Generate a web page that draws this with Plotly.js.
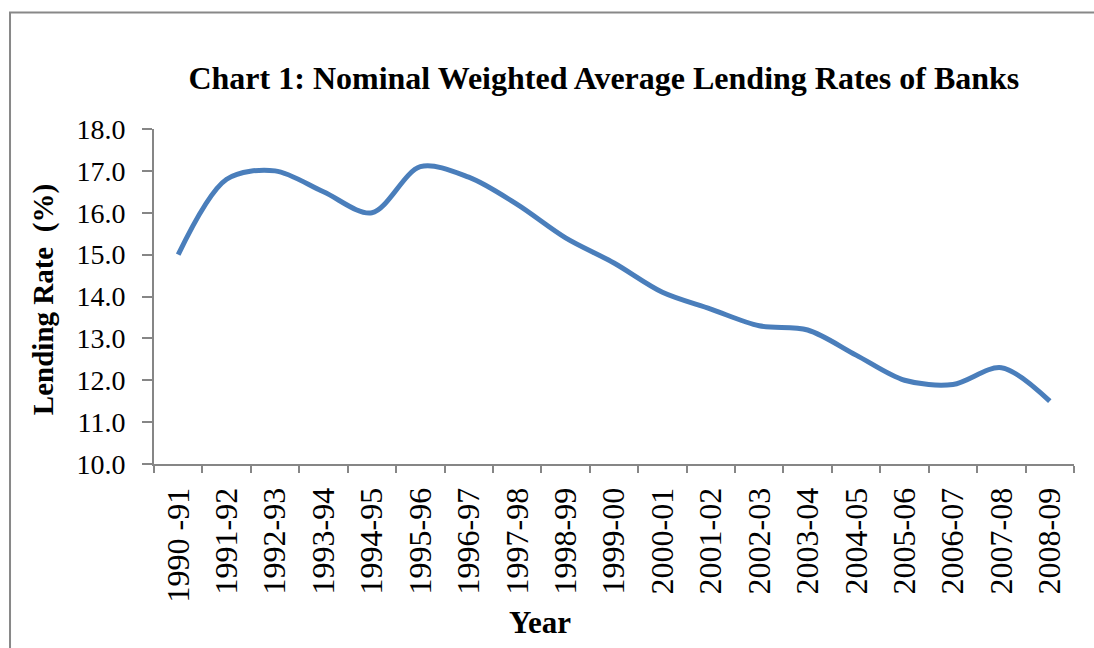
<!DOCTYPE html>
<html>
<head>
<meta charset="utf-8">
<script src="https://cdn.plot.ly/plotly-3.0.1.min.js"></script>
<style>
  html, body { margin: 0; padding: 0; background: #fff; }
  #chart { width: 1094px; height: 648px; }
</style>
</head>
<body>
<div id="chart"></div>
<script>
const years = ["1990 -91","1991-92","1992-93","1993-94","1994-95","1995-96","1996-97","1997-98","1998-99","1999-00",
               "2000-01","2001-02","2002-03","2003-04","2004-05","2005-06","2006-07","2007-08","2008-09"];
const lendingRate = [15.0, 16.8, 17.0, 16.5, 16.0, 17.1, 16.85, 16.2, 15.4, 14.8,
                     14.1, 13.7, 13.3, 13.2, 12.6, 12.0, 11.9, 12.3, 11.5];
const yTickVals = [10, 11, 12, 13, 14, 15, 16, 17, 18];
const yTickText = ["10.0","11.0","12.0","13.0","14.0","15.0","16.0","17.0","18.0"];

const serif = "Liberation Serif";
const axisGray = "#868686";

const trace = {
  x: years,
  y: lendingRate,
  type: "scatter",
  mode: "lines",
  line: { color: "#4a7ebb", width: 5, shape: "spline", smoothing: 0.9 },
  hoverinfo: "x+y"
};

const layout = {
  width: 1094,
  height: 648,
  paper_bgcolor: "#ffffff",
  plot_bgcolor: "#ffffff",
  margin: { l: 154, r: 20, t: 129, b: 184 },
  showlegend: false,
  font: { family: serif, color: "#000" },
  title: {
    text: "<b>Chart 1: Nominal Weighted Average Lending Rates of Banks</b>",
    font: { family: serif, size: 32, color: "#000" },
    x: 0.489, xref: "paper", xanchor: "center",
    y: 0.88, yref: "container", yanchor: "middle"
  },
  xaxis: {
    type: "category",
    range: [-0.5, 18.5],
    tickson: "boundaries",
    ticks: "outside",
    ticklen: 7,
    tickwidth: 2,
    tickcolor: axisGray,
    showline: true,
    linecolor: axisGray,
    linewidth: 2,
    showgrid: false,
    zeroline: false,
    tickangle: -90,
    tickfont: { family: serif, size: 32, color: "#000" },
    ticklabelstandoff: 9
  },
  yaxis: {
    range: [10, 18],
    tickvals: yTickVals,
    ticktext: yTickText,
    ticks: "outside",
    ticklen: 10,
    tickwidth: 2,
    tickcolor: axisGray,
    showline: true,
    linecolor: axisGray,
    linewidth: 2,
    showgrid: false,
    zeroline: false,
    tickfont: { family: serif, size: 28, color: "#000" },
    ticklabelstandoff: 11
  },
  annotations: [
    {
      text: "<b>Lending Rate  (%)</b>",
      xref: "paper", yref: "paper",
      x: -0.1207, y: 0.492,
      xanchor: "center", yanchor: "middle",
      textangle: -90, showarrow: false,
      font: { family: serif, size: 29, color: "#000" }
    },
    {
      text: "<b>Year</b>",
      xref: "paper", yref: "paper",
      x: 0.42, y: -0.473,
      xanchor: "center", yanchor: "middle",
      showarrow: false,
      font: { family: serif, size: 31, color: "#000" }
    }
  ],
  shapes: [
    {
      type: "rect", xref: "paper", yref: "paper",
      x0: -0.1565, x1: 1.2, y0: -1, y1: 1.348,
      line: { color: "#888888", width: 2 },
      fillcolor: "rgba(0,0,0,0)",
      layer: "below"
    }
  ]
};

Plotly.newPlot("chart", [trace], layout, { displayModeBar: false, staticPlot: true });
</script>
</body>
</html>
